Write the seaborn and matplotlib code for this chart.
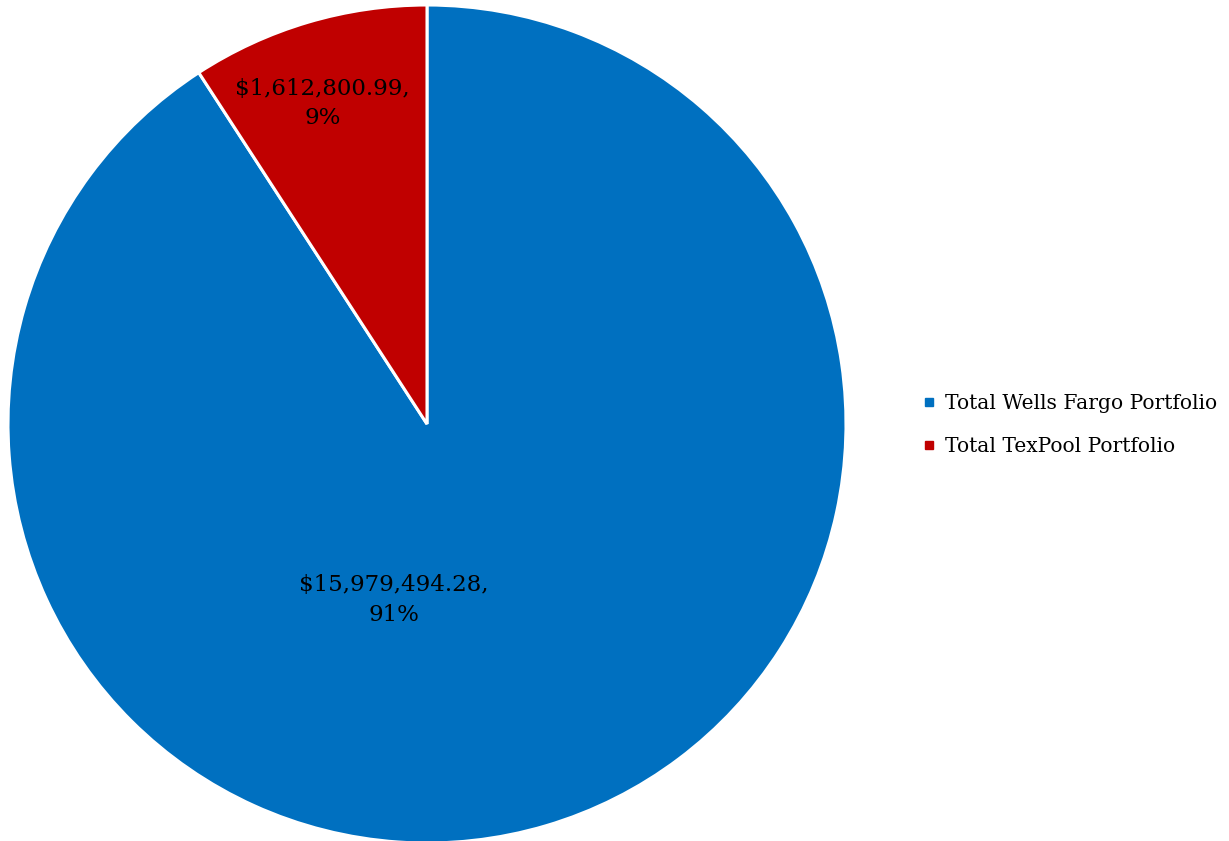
import matplotlib
matplotlib.use("Agg")
import matplotlib.pyplot as plt
from matplotlib.lines import Line2D
import seaborn as sns
import numpy as np

categories = ["Total Wells Fargo Portfolio", "Total TexPool Portfolio"]
values = [15979494.28, 1612800.99]
value_labels = ["$15,979,494.28,\n91%", "$1,612,800.99,\n9%"]
colors = ["#0070C0", "#C00000"]

sns.set_theme(style="white")
plt.rcParams['font.family'] = ['DejaVu Serif']

W, H = 1229, 841
fig = plt.figure(figsize=(W / 100, H / 100), dpi=100)
cx, cy, r = 427, 841 - 424, 419
ax = fig.add_axes([(cx - r) / W, (cy - r) / H, 2 * r / W, 2 * r / H])

wedges, _ = ax.pie(values, colors=colors, startangle=90, counterclock=False,
                   wedgeprops=dict(edgecolor="white", linewidth=2.2), radius=1.0)
ax.set_xlim(-1, 1)
ax.set_ylim(-1, 1)
ax.set_aspect("equal")
ax.axis("off")

# label positions (fraction of radius), as placed in the reference
label_pos = [(-0.08, -0.42), (-0.25, 0.765)]
for lbl, (x, y) in zip(value_labels, label_pos):
    ax.text(x, y, lbl, ha="center", va="center", fontsize=16.5, color="black",
            linespacing=1.45)

handles = [Line2D([0], [0], marker="s", color="none", markerfacecolor=c,
                  markeredgecolor=c, markersize=6) for c in colors]
fig.legend(handles, categories, loc="center left",
           bbox_to_anchor=(905 / W, (841 - 425) / H), frameon=False,
           fontsize=14.6, handlelength=0.6, handletextpad=0.45, labelspacing=1.15,
           labelcolor="black")

fig.savefig("out.png", dpi=100)
